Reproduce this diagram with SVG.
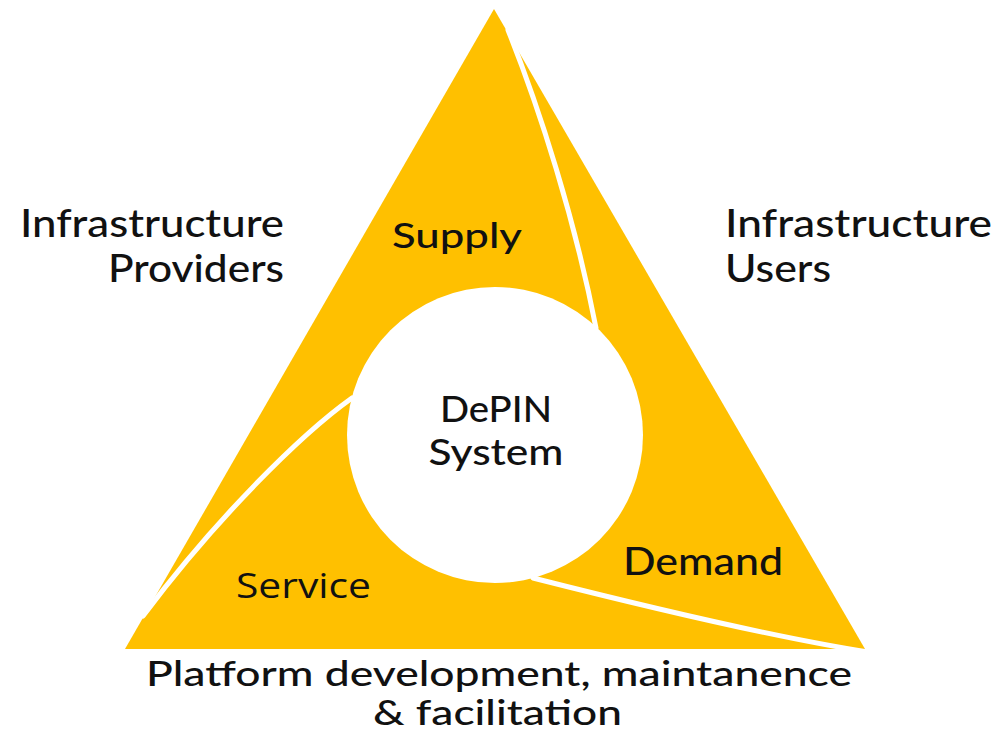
<svg xmlns="http://www.w3.org/2000/svg" width="1002" height="745" viewBox="0 0 1002 745">
<style>
.seg{fill:#FFC000;}
.gap{fill:none;stroke:#FFFFFF;stroke-width:5;stroke-linecap:round;}
.t{font-family:Lato,"Noto Sans","Liberation Sans",sans-serif;font-weight:500;fill:#111111;}
.t2{font-family:"Open Sans","Noto Sans",sans-serif;font-weight:500;fill:#111111;}
</style>
<rect width="1002" height="745" fill="#FFFFFF"/>
<g id="triangle">
<polygon class="seg" points="494,9 865,649 125,649"/>
</g>
<g id="connectors">
<path class="gap" d="M508,30 C540,110 575,220 596,328"/>
<path class="gap" d="M352,398 C300,435 215,520 143,616"/>
<path class="gap" d="M533,578 C600,595 760,635 868,652"/>
</g>
<g id="center">
<circle cx="495" cy="435" r="148" fill="#FFFFFF"/>
<text class="t" x="496" y="422" font-size="37" text-anchor="middle" textLength="112" lengthAdjust="spacingAndGlyphs">DePIN</text>
<text class="t" x="496" y="465" font-size="37" text-anchor="middle" textLength="135" lengthAdjust="spacingAndGlyphs">System</text>
</g>
<g id="supply">
<text class="t" x="392" y="248" font-size="34" textLength="130" lengthAdjust="spacingAndGlyphs">Supply</text>
</g>
<g id="service">
<text class="t2" x="236" y="598" font-size="35" textLength="135" lengthAdjust="spacingAndGlyphs">Service</text>
</g>
<g id="demand">
<text class="t" x="623" y="575" font-size="38" textLength="160" lengthAdjust="spacingAndGlyphs">Demand</text>
</g>
<g id="providers">
<text class="t" x="20" y="237" font-size="38" textLength="264" lengthAdjust="spacingAndGlyphs">Infrastructure</text>
<text class="t" x="108" y="282" font-size="38" textLength="176" lengthAdjust="spacingAndGlyphs">Providers</text>
</g>
<g id="users">
<text class="t" x="725" y="237" font-size="38" textLength="267" lengthAdjust="spacingAndGlyphs">Infrastructure</text>
<text class="t" x="725" y="282" font-size="38" textLength="106" lengthAdjust="spacingAndGlyphs">Users</text>
</g>
<g id="platform">
<text class="t" x="146" y="686" font-size="35" textLength="706" lengthAdjust="spacingAndGlyphs">Platform development, maintanence</text>
<text class="t" x="373" y="725" font-size="35" textLength="249" lengthAdjust="spacingAndGlyphs">&amp; facilitation</text>
</g>
</svg>
